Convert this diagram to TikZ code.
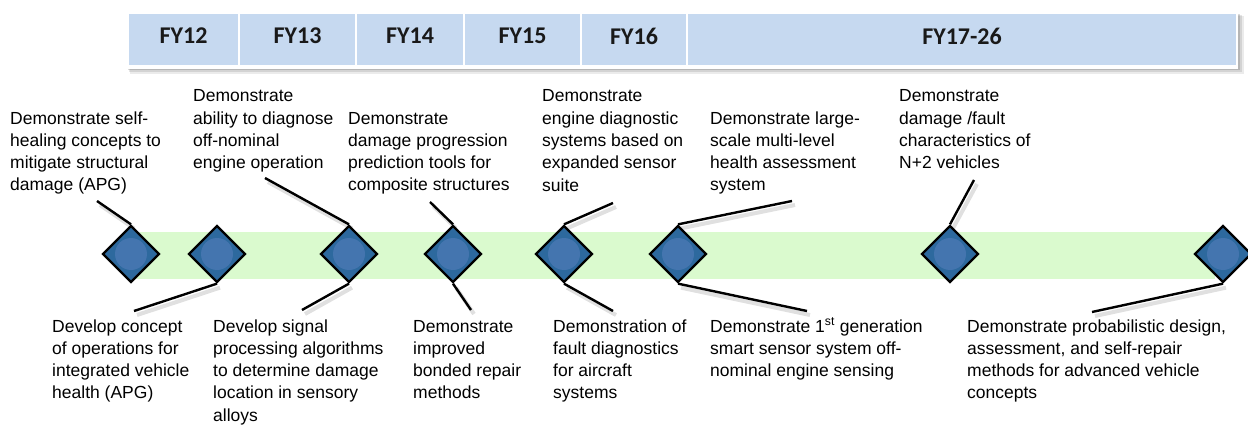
\documentclass[tikz,border=0pt]{standalone}
\usepackage{fontspec}
\setmainfont{Liberation Sans}
\newfontfamily\hdrfont{Carlito}
\usetikzlibrary{shapes.geometric,calc}
\definecolor{hdrblue}{RGB}{198,217,240}
\definecolor{bandgreen}{RGB}{218,250,206}
\definecolor{dfill}{RGB}{45,105,158}
\definecolor{cfill}{RGB}{68,117,175}
\definecolor{hdrtext}{RGB}{25,25,25}
\begin{document}
\begin{tikzpicture}[x=1pt,y=-1pt,
  cell/.style={rectangle, fill=hdrblue, inner sep=0pt, minimum height=51pt,
     font=\hdrfont\bfseries\fontsize{24}{26}\selectfont, text=hdrtext, text depth=7pt},
  dm/.style={diamond, draw=black, line width=2.3pt, fill=dfill,
     minimum width=57pt, minimum height=57pt, inner sep=0pt,
     path picture={\fill[cfill] (path picture bounding box.center) circle (16pt);}},
  conn/.style={line width=2.4pt, black},
  cshadow/.style={line width=4pt, black, opacity=0.12},
  tx/.style={anchor=base west, inner sep=0pt, font=\fontsize{17.5}{22.3}\selectfont}]
\useasboundingbox (0,0) rectangle (1248,428);
\fill[white] (0,0) rectangle (1248,428);
% header bar with shadow
\fill[black,opacity=0.08] (130,16) rectangle (1244,74);
\fill[black,opacity=0.10] (129,15) rectangle (1242,72);
\fill[black,opacity=0.14] (128,14) rectangle (1240,70);
\fill[white] (126,12) rectangle (1238,69);
\node[cell, minimum width=109pt] (c1) at (183.5,39.5) {FY12};
\node[cell, minimum width=115pt] (c2) at (297.5,39.5) {FY13};
\node[cell, minimum width=106pt] (c3) at (410,39.5) {FY14};
\node[cell, minimum width=115pt] (c4) at (522.5,39.5) {FY15};
\node[cell, minimum width=104pt] (c5) at (634,39.5) {FY16};
\node[cell, minimum width=548pt] (c6) at (962,39.5) {FY17-26};
% green band
\fill[bandgreen] (130,232) rectangle (1215,279);
% text blocks top
\node[tx] (t1) at (10,124) {\parbox[t]{300pt}{\raggedright Demonstrate self-\\healing concepts to\\mitigate structural\\damage (APG)}};
\node[tx] (t2) at (193,102) {\parbox[t]{300pt}{\raggedright Demonstrate\\ability to diagnose\\off-nominal\\engine operation}};
\node[tx] (t3) at (348,124) {\parbox[t]{300pt}{\raggedright Demonstrate\\damage progression\\prediction tools for\\composite structures}};
\node[tx] (t4) at (542,102) {\parbox[t]{300pt}{\raggedright Demonstrate\\engine diagnostic\\systems based on\\expanded sensor\\suite}};
\node[tx] (t5) at (710,124) {\parbox[t]{300pt}{\raggedright Demonstrate large-\\scale multi-level\\health assessment\\system}};
\node[tx] (t6) at (899,102) {\parbox[t]{300pt}{\raggedright Demonstrate\\damage /fault\\characteristics of\\N+2 vehicles}};
% text blocks bottom
\node[tx] (t7) at (52,332) {\parbox[t]{300pt}{\raggedright Develop concept\\of operations for\\integrated vehicle\\health (APG)}};
\node[tx] (t8) at (213,332) {\parbox[t]{300pt}{\raggedright Develop signal\\processing algorithms\\to determine damage\\location in sensory\\alloys}};
\node[tx] (t9) at (413,332) {\parbox[t]{300pt}{\raggedright Demonstrate\\improved\\bonded repair\\methods}};
\node[tx] (t10) at (553,332) {\parbox[t]{300pt}{\raggedright Demonstration of\\fault diagnostics\\for aircraft\\systems}};
\node[tx] (t11) at (710,332) {\parbox[t]{300pt}{\raggedright Demonstrate 1\textsuperscript{st} generation\\smart sensor system off-\\nominal engine sensing}};
\node[tx] (t12) at (967,332) {\parbox[t]{300pt}{\raggedright Demonstrate probabilistic design,\\assessment, and self-repair\\methods for advanced vehicle\\concepts}};
% diamond positions
\coordinate (p1) at (131,254); \coordinate (p2) at (217,254);
\coordinate (p3) at (349,254); \coordinate (p4) at (453,254);
\coordinate (p5) at (564,254); \coordinate (p6) at (678,254);
\coordinate (p7) at (950,254); \coordinate (p8) at (1223,254);
% free ends of connectors
\coordinate (e1) at (97,201);
\coordinate (e2) at (134,311);
\coordinate (e3) at (265,178);
\coordinate (e4) at (302,310);
\coordinate (e5) at (430,202);
\coordinate (e6) at (471,310);
\coordinate (e7) at (613,203);
\coordinate (e8) at (613,311);
\coordinate (e9) at (792,201);
\coordinate (e10) at (807,311);
\coordinate (e11) at (974,180);
\coordinate (e12) at (1092,312);
% invisible diamond anchors
\foreach \i in {1,...,8} {\node[dm, draw=none, fill=none, path picture={}] (d\i) at (p\i) {};}
% connector shadows
\foreach \a/\b in {e1/d1.north, d2.south/e2, e3/d3.north, d3.south/e4, e5/d4.north, d4.south/e6,
  e7/d5.north, d5.south/e8, e9/d6.north, d6.south/e10, e11/d7.north, d8.south/e12}
  {\draw[cshadow] ($(\a)+(3,4)$) -- ($(\b)+(3,4)$);}
% connectors
\draw[conn] (e1) -- (d1.north);
\draw[conn] (d2.south) -- (e2);
\draw[conn] (e3) -- (d3.north);
\draw[conn] (d3.south) -- (e4);
\draw[conn] (e5) -- (d4.north);
\draw[conn] (d4.south) -- (e6);
\draw[conn] (e7) -- (d5.north);
\draw[conn] (d5.south) -- (e8);
\draw[conn] (e9) -- (d6.north);
\draw[conn] (d6.south) -- (e10);
\draw[conn] (e11) -- (d7.north);
\draw[conn] (d8.south) -- (e12);
% diamonds on top
\foreach \i in {1,...,8} {\node[dm] at (p\i) {};}
\end{tikzpicture}
\end{document}
